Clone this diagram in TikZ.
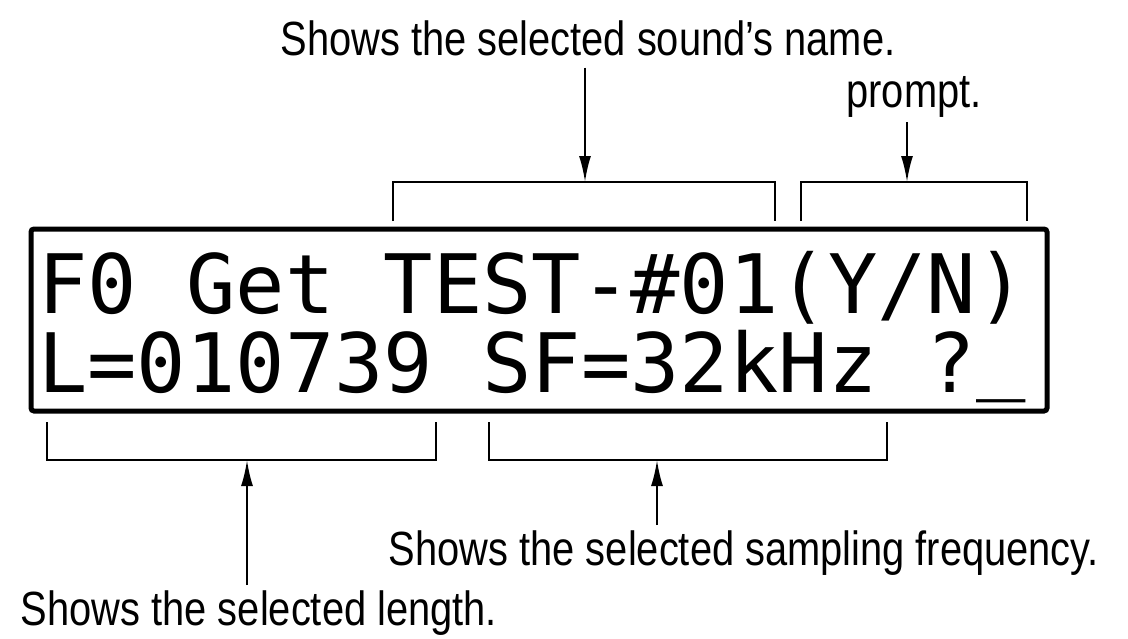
\documentclass[tikz,border=0pt]{standalone}
\usepackage{fontspec}
\setmainfont{Liberation Sans}[FakeStretch=0.83]
\newfontfamily\lcdfont{DejaVu Sans Mono}
\usetikzlibrary{arrows.meta}

\begin{document}
\begin{tikzpicture}[x=1pt, y=-1pt,
    note/.style={font=\fontsize{48}{52}\selectfont, inner sep=5pt, anchor=base},
    lcdline/.style={font=\lcdfont\fontsize{82}{90}\selectfont, inner sep=0pt, anchor=base west},
    lcdbox/.style={draw, line width=5pt, rounded corners=3pt, minimum width=1016pt, minimum height=182pt, inner sep=0pt},
    bracket/.style={line width=2pt},
    pointer/.style={line width=2pt, -{Latex[length=26pt,width=12pt]}}]
    \useasboundingbox (0,0) rectangle (1128,638);

    % Draw the display and its two lines
    \node[lcdbox] (lcd) at (539,320) {};
    \node[lcdline] (row1) at (38,313) {F0 Get TEST-\#01(Y/N)};
    \node[lcdline] (row2) at (38,392) {L=010739 SF=32kHz ?\smash{\raisebox{9pt}{\_}}};

    % Brackets above and below the display
    \foreach \l/\r in {393/775, 801/1027} \draw[bracket] (\l,221) |- (\r,182) -- (\r,221);
    \foreach \l/\r in {47/436, 489/887} \draw[bracket] (\l,422) |- (\r,460) -- (\r,422);
    \coordinate (namebar) at (585,182);
    \coordinate (promptbar) at (907,182);
    \coordinate (lengthbar) at (247,460);
    \coordinate (freqbar) at (657,460);

    % Add the notes
    \node[note] (nametxt) at (588,55) {Shows the selected sound's name.};
    \node[note] (prompttxt) at (914,107) {prompt.};
    \node[note] (freqtxt) at (744,565) {Shows the selected sampling frequency.};
    \node[note] (lengthtxt) at (259,625) {Shows the selected length.};

    % Arrows from the notes to the brackets
    \draw[pointer, shorten <=7pt] (nametxt.south -| namebar) -- (namebar);
    \draw[pointer] (prompttxt.south -| promptbar) -- (promptbar);
    \draw[pointer] (freqtxt.north -| freqbar) -- (freqbar);
    \draw[pointer] (lengthtxt.north -| lengthbar) -- (lengthbar);
\end{tikzpicture}
\end{document}
